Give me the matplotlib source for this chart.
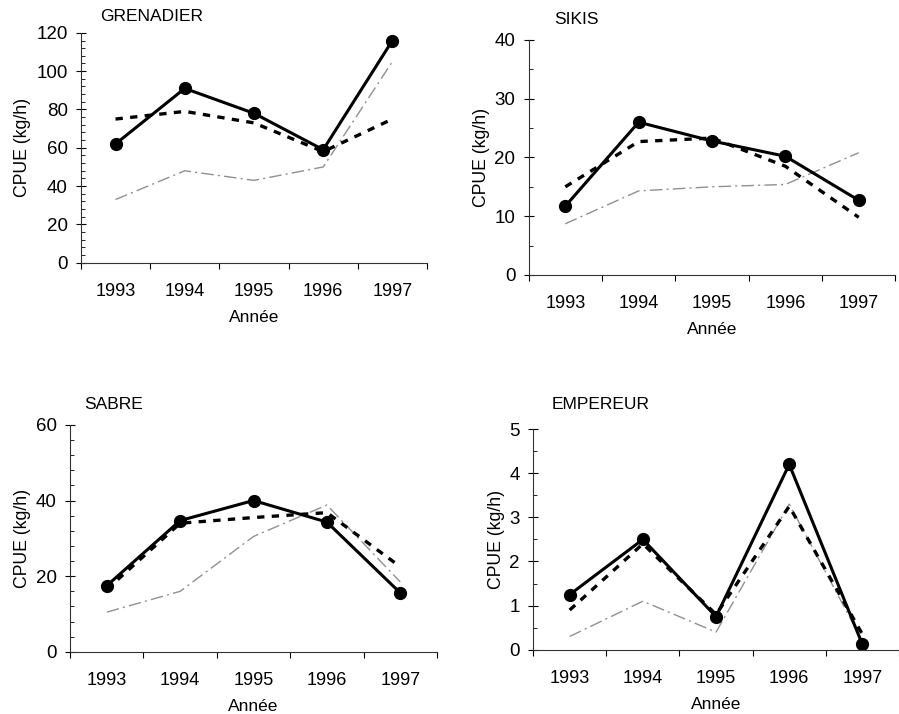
import matplotlib.pyplot as plt
import numpy as np
from matplotlib.ticker import FixedLocator, MultipleLocator, NullFormatter

plt.rcParams['font.family'] = ['Liberation Sans', 'DejaVu Sans']

years = ["1993", "1994", "1995", "1996", "1997"]

# CPUE (kg/h) per species : bold line with dots, dashed line, thin grey line
gren_main = [62, 91, 78, 59, 116]
gren_dash = [75, 79, 73, 58, 75]
gren_thin = [33, 48, 43, 50, 105]

sikis_main = [11.7, 26, 22.8, 20.2, 12.7]
sikis_dash = [15, 22.7, 23.3, 18.5, 9.8]
sikis_thin = [8.7, 14.3, 15, 15.4, 20.8]

sabre_main = [17.5, 34.7, 40, 34.3, 15.6]
sabre_dash = [16.5, 34, 35.5, 36.8, 22.5]
sabre_thin = [10.5, 16, 30.5, 38.8, 18.5]

emp_main = [1.25, 2.5, 0.75, 4.2, 0.12]
emp_dash = [0.9, 2.4, 0.8, 3.25, 0.35]
emp_thin = [0.3, 1.1, 0.4, 3.3, 0.2]

panels = [
    ("GRENADIER", gren_main, gren_dash, gren_thin, 120, 20, 4,
     [0.090, 0.632, 0.385, 0.322], (0.111, 0.977)),
    ("SIKIS", sikis_main, sikis_dash, sikis_thin, 40, 10, 5,
     [0.588, 0.615, 0.408, 0.329], (0.617, 0.972)),
    ("SABRE", sabre_main, sabre_dash, sabre_thin, 60, 20, 4,
     [0.078, 0.087, 0.408, 0.318], (0.094, 0.433)),
    ("EMPEREUR", emp_main, emp_dash, emp_thin, 5, 1, 0.5,
     [0.593, 0.090, 0.407, 0.309], (0.614, 0.433)),
]

fig = plt.figure(figsize=(8.99, 7.14), dpi=100)

for name, main, dash, thin, ymax, ystep, yminor, rect, tpos in panels:
    ax = fig.add_axes(rect)
    x = np.arange(len(years))
    ax.plot(x, thin, color='#909090', lw=1.0, dashes=(9, 3, 1.5, 3))
    ax.plot(x, dash, color='black', lw=2.4, dashes=(2.2, 2.2))
    ax.plot(x, main, color='black', lw=2.2, marker='o', ms=8.5)

    ax.set_xlim(-0.5, 4.5)
    ax.set_ylim(0, ymax)
    ax.xaxis.set_major_locator(FixedLocator(np.arange(-0.5, 4.6, 1)))
    ax.xaxis.set_major_formatter(NullFormatter())
    ax.xaxis.set_minor_locator(FixedLocator(x))
    ax.set_xticklabels(years, minor=True)
    ax.tick_params(axis='x', which='major', direction='out', length=4, width=0.8)
    ax.tick_params(axis='x', which='minor', length=0, pad=14.5, labelsize=13)

    ax.yaxis.set_major_locator(MultipleLocator(ystep))
    ax.yaxis.set_minor_locator(MultipleLocator(yminor))
    ax.tick_params(axis='y', which='major', direction='inout', length=7,
                   width=0.8, labelsize=13.5, pad=6)
    ax.tick_params(axis='y', which='minor', direction='in', length=3, width=0.6)

    for s in ('top', 'right'):
        ax.spines[s].set_visible(False)
    for s in ('left', 'bottom'):
        ax.spines[s].set_linewidth(0.8)
        ax.spines[s].set_color('#333333')

    ax.set_ylabel("CPUE (kg/h)", fontsize=12.7, labelpad=3.5)
    ax.set_xlabel("Année", fontsize=12.5, labelpad=7)
    fig.text(tpos[0], tpos[1], name, fontsize=12.5, va='center', ha='left')

fig.savefig("out.png", dpi=100)
